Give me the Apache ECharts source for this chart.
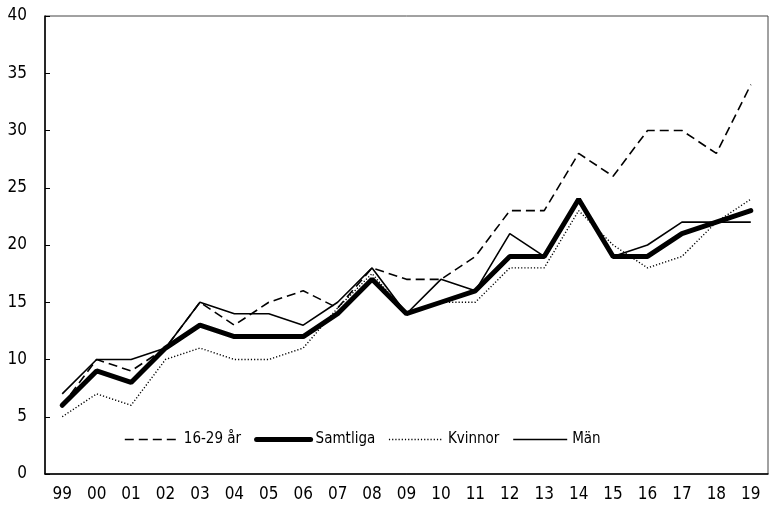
<!DOCTYPE html>
<html>
<head>
<meta charset="utf-8">
<script src="https://cdn.jsdelivr.net/npm/echarts@6/dist/echarts.min.js"></script>
<style>
html,body{margin:0;padding:0;background:#fff;}
#chart{width:769px;height:507px;}
</style>
</head>
<body>
<div id="chart"></div>
<script>
const categories = ['99','00','01','02','03','04','05','06','07','08','09','10','11','12','13','14','15','16','17','18','19'];
const young   = [6, 10, 9, 11, 15, 13, 15, 16, 14.5, 18, 17, 17, 19, 23, 23, 28, 26, 30, 30, 28, 34];
const total   = [6, 9, 8, 11, 13, 12, 12, 12, 14, 17, 14, 15, 16, 19, 19, 24, 19, 19, 21, 22, 23];
const women   = [5, 7, 6, 10, 11, 10, 10, 11, 14.5, 17.5, 14, 15, 15, 18, 18, 23, 20, 18, 19, 22, 24];
const men     = [7, 10, 10, 11, 15, 14, 14, 13, 15, 18, 14, 17, 16, 21, 19, 24, 19, 20, 22, 22, 22];
const yTicks  = {min: 0, max: 40, interval: 5};
const names   = ['16-29 år', 'Samtliga', 'Kvinnor', 'Män'];

const FONT = '"Liberation Sans Narrow", "DejaVu Sans Condensed", "Roboto Condensed", sans-serif';
const styles = [
  {width: 1.6, type: [9, 5], cap: 'butt'},
  {width: 5, type: 'solid', cap: 'round'},
  {width: 1.4, type: [1.2, 2], cap: 'butt'},
  {width: 1.6, type: 'solid', cap: 'butt'}
];
const chart = echarts.init(document.getElementById('chart'), null, {renderer: 'canvas'});
const mk = (i, data, z) => ({
  name: names[i], type: 'line', data, showSymbol: false, symbol: 'none', z,
  lineStyle: Object.assign({color: '#000'}, styles[i]), itemStyle: {color: '#000'},
  emphasis: {disabled: true}, animation: false
});
chart.setOption({
  animation: false,
  textStyle: {fontFamily: FONT},
  grid: {left: 45, right: 1, top: 16, bottom: 33, show: true, borderColor: '#444', borderWidth: 1},
  legend: {
    left: 119, top: 427, itemWidth: 54, itemHeight: 10, itemGap: 13,
    textStyle: {fontFamily: FONT, fontSize: 15, color: '#000'},
    data: names.map((n, i) => ({
      name: n,
      itemStyle: {opacity: 0},
      lineStyle: Object.assign({color: '#000'}, styles[i])
    }))
  },
  xAxis: [{
    type: 'category', data: categories, boundaryGap: true,
    axisLine: {lineStyle: {color: '#000', width: 1.5}},
    axisTick: {length: 6, lineStyle: {color: '#000'}},
    axisLabel: {color: '#000', fontSize: 17, fontFamily: FONT, margin: 12}
  }, {
    type: 'category', data: categories, boundaryGap: true, position: 'bottom',
    axisLine: {show: false},
    axisTick: {inside: true, length: 5, lineStyle: {color: '#000'}},
    axisLabel: {show: false}
  }],
  yAxis: {
    type: 'value', min: yTicks.min, max: yTicks.max, interval: yTicks.interval,
    axisLine: {show: true, lineStyle: {color: '#000', width: 1.5}},
    axisTick: {show: true, inside: true, length: 5, lineStyle: {color: '#000'}},
    splitLine: {show: false},
    axisLabel: {color: '#000', fontSize: 17, fontFamily: FONT, margin: 18}
  },
  series: [
    mk(0, young, 3),
    mk(1, total, 2),
    mk(2, women, 4),
    mk(3, men, 5)
  ]
});
</script>
</body>
</html>
